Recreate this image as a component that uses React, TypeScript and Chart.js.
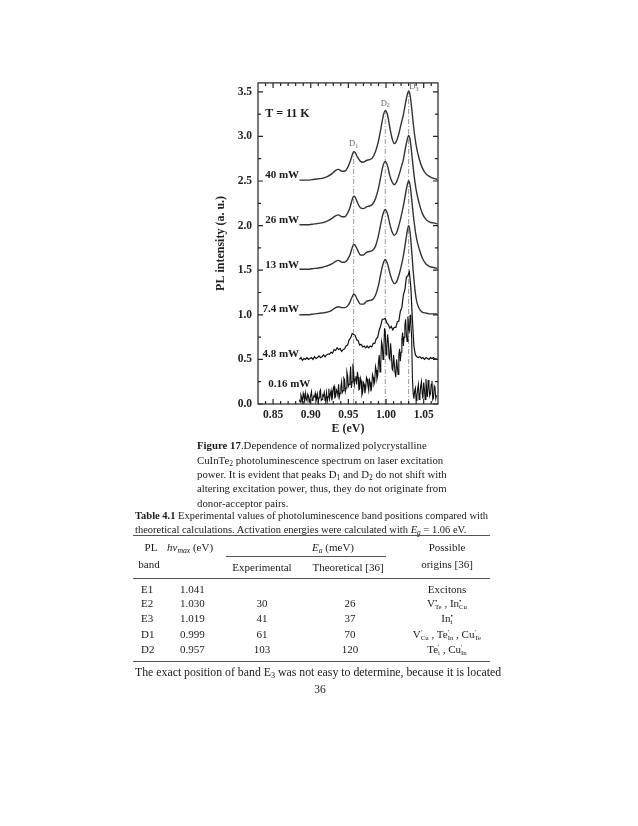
import React, { useEffect, useRef } from "react";
import { Chart, registerables } from "chart.js";

Chart.register(...registerables);

const FONT = '"Liberation Serif", "DejaVu Serif", serif';

// ---- data ----
const gridE = [0.885, 0.895, 0.905, 0.915, 0.922, 0.928, 0.933, 0.937, 0.941, 0.945, 0.949, 0.952, 0.955, 0.957, 0.959, 0.962, 0.966, 0.970, 0.974, 0.978, 0.982, 0.986, 0.990, 0.993, 0.996, 0.999, 1.002, 1.005, 1.008, 1.011, 1.014, 1.017, 1.020, 1.023, 1.026, 1.028, 1.030, 1.032, 1.034, 1.037, 1.040, 1.044, 1.048, 1.053, 1.058, 1.063, 1.068];

const pl40 = [2.51, 2.51, 2.52, 2.53, 2.55, 2.58, 2.62, 2.63, 2.61, 2.61, 2.65, 2.71, 2.79, 2.83, 2.82, 2.77, 2.72, 2.71, 2.73, 2.74, 2.76, 2.83, 2.95, 3.08, 3.22, 3.29, 3.24, 3.10, 2.98, 2.92, 2.95, 3.03, 3.14, 3.24, 3.38, 3.46, 3.51, 3.46, 3.32, 3.08, 2.90, 2.75, 2.65, 2.58, 2.55, 2.53, 2.52];
const pl26 = [2.01, 2.01, 2.02, 2.03, 2.05, 2.08, 2.11, 2.12, 2.10, 2.10, 2.14, 2.20, 2.29, 2.33, 2.32, 2.26, 2.20, 2.19, 2.21, 2.22, 2.24, 2.30, 2.42, 2.55, 2.67, 2.72, 2.67, 2.56, 2.49, 2.46, 2.49, 2.56, 2.65, 2.74, 2.88, 2.96, 3.01, 2.96, 2.82, 2.58, 2.40, 2.25, 2.14, 2.07, 2.04, 2.03, 2.02];
const pl13 = [1.51, 1.51, 1.52, 1.53, 1.55, 1.57, 1.60, 1.61, 1.59, 1.59, 1.62, 1.67, 1.75, 1.79, 1.78, 1.73, 1.67, 1.67, 1.70, 1.71, 1.72, 1.77, 1.89, 2.02, 2.13, 2.18, 2.13, 2.02, 1.93, 1.89, 1.92, 2.00, 2.10, 2.22, 2.36, 2.45, 2.50, 2.45, 2.30, 2.06, 1.88, 1.74, 1.64, 1.57, 1.54, 1.53, 1.52];
const pl74 = [1.00, 1.00, 1.01, 1.02, 1.03, 1.05, 1.08, 1.09, 1.08, 1.08, 1.10, 1.14, 1.20, 1.23, 1.22, 1.17, 1.12, 1.12, 1.15, 1.16, 1.17, 1.22, 1.33, 1.46, 1.57, 1.62, 1.57, 1.47, 1.39, 1.35, 1.37, 1.44, 1.54, 1.66, 1.82, 1.93, 2.00, 1.92, 1.72, 1.40, 1.18, 1.07, 1.03, 1.02, 1.01, 1.01, 1.01];

const noisyE = [
  0.885, 0.887, 0.889, 0.891, 0.893, 0.895, 0.897, 0.899, 0.901, 0.903,
  0.905, 0.907, 0.909, 0.911, 0.913, 0.915, 0.917, 0.919, 0.921, 0.923,
  0.925, 0.927, 0.929, 0.931, 0.933, 0.935, 0.937, 0.939, 0.941, 0.943,
  0.945, 0.947, 0.949, 0.951, 0.953, 0.955, 0.957, 0.959, 0.961, 0.963,
  0.965, 0.967, 0.969, 0.971, 0.973, 0.975, 0.977, 0.979, 0.981, 0.983,
  0.985, 0.987, 0.989, 0.991, 0.993, 0.995, 0.997, 0.999, 1.001, 1.003,
  1.005, 1.007, 1.009, 1.011, 1.013, 1.015, 1.017, 1.019, 1.021, 1.023,
  1.025, 1.027, 1.029, 1.031, 1.033, 1.035, 1.037, 1.039, 1.041, 1.043,
  1.045, 1.047, 1.049, 1.051, 1.053, 1.055, 1.057, 1.059, 1.061, 1.063,
  1.065, 1.067,
];

const noisyMidE = [
  0.886, 0.888, 0.890, 0.892, 0.894, 0.896, 0.898, 0.900, 0.902, 0.904,
  0.906, 0.908, 0.910, 0.912, 0.914, 0.916, 0.918, 0.920, 0.922, 0.924,
  0.926, 0.928, 0.930, 0.932, 0.934, 0.936, 0.938, 0.940, 0.942, 0.944,
  0.946, 0.948, 0.950, 0.952, 0.954, 0.956, 0.958, 0.960, 0.962, 0.964,
  0.966, 0.968, 0.970, 0.972, 0.974, 0.976, 0.978, 0.980, 0.982, 0.984,
  0.986, 0.988, 0.990, 0.992, 0.994, 0.996, 0.998, 1.000, 1.002, 1.004,
  1.006, 1.008, 1.010, 1.012, 1.014, 1.016, 1.018, 1.020, 1.022, 1.024,
  1.026, 1.028, 1.030, 1.032, 1.034, 1.036, 1.038, 1.040, 1.042, 1.044,
  1.046, 1.048, 1.050, 1.052, 1.054, 1.056, 1.058, 1.060, 1.062, 1.064,
  1.066,
];

const pl48 = [
  0.50, 0.52, 0.49, 0.51, 0.50, 0.52, 0.50, 0.51, 0.52, 0.50,
  0.53, 0.51, 0.52, 0.54, 0.52, 0.53, 0.55, 0.53, 0.55, 0.56,
  0.56, 0.58, 0.57, 0.61, 0.60, 0.63, 0.61, 0.62, 0.59, 0.61,
  0.62, 0.65, 0.66, 0.72, 0.74, 0.79, 0.78, 0.77, 0.72, 0.71,
  0.66, 0.67, 0.64, 0.65, 0.63, 0.65, 0.63, 0.65, 0.64, 0.68,
  0.68, 0.73, 0.75, 0.83, 0.88, 0.95, 0.95, 0.96, 0.91, 0.89,
  0.85, 0.87, 0.83, 0.86, 0.86, 0.92, 0.93, 1.04, 1.08, 1.22,
  1.28, 1.42, 1.44, 1.48, 1.30, 0.95, 0.65, 0.55, 0.53, 0.52,
  0.53, 0.51, 0.52, 0.50, 0.52, 0.51, 0.50, 0.52, 0.51, 0.52,
  0.50, 0.51,
];

const pl016 = [
  0.05, 0.10, 0.03, 0.08, 0.12, 0.04, 0.09, 0.06, 0.14, 0.05,
  0.08, 0.03, 0.11, 0.07, 0.16, 0.05, 0.09, 0.04, 0.13, 0.08,
  0.06, 0.15, 0.09, 0.20, 0.08, 0.14, 0.22, 0.12, 0.25, 0.15,
  0.27, 0.18, 0.32, 0.22, 0.42, 0.25, 0.35, 0.28, 0.22, 0.30,
  0.17, 0.26, 0.13, 0.22, 0.18, 0.28, 0.15, 0.24, 0.20, 0.30,
  0.25, 0.38, 0.32, 0.55, 0.45, 0.66, 0.58, 0.80, 0.62, 0.70,
  0.50, 0.58, 0.38, 0.45, 0.30, 0.42, 0.55, 0.48, 0.72, 0.65,
  0.88, 0.78, 0.98, 0.82, 0.90, 0.30, 0.06, 0.18, 0.08, 0.22,
  0.10, 0.25, 0.06, 0.16, 0.28, 0.08, 0.20, 0.12, 0.26, 0.07,
  0.18, 0.10,
];

const pl016Mid = [
  0.02, 0.07, 0.12, 0.03, 0.06, 0.11, 0.02, 0.10, 0.04, 0.09,
  0.12, 0.06, 0.02, 0.14, 0.04, 0.10, 0.13, 0.06, 0.03, 0.17,
  0.11, 0.04, 0.18, 0.07, 0.16, 0.10, 0.08, 0.19, 0.13, 0.29,
  0.14, 0.36, 0.20, 0.28, 0.18, 0.45, 0.22, 0.31, 0.36, 0.16,
  0.29, 0.10, 0.24, 0.12, 0.30, 0.20, 0.27, 0.14, 0.33, 0.22,
  0.42, 0.28, 0.47, 0.36, 0.70, 0.50, 0.85, 0.55, 0.78, 0.52,
  0.68, 0.40, 0.55, 0.35, 0.50, 0.33, 0.62, 0.58, 0.80, 0.75,
  0.95, 0.70, 0.85, 1.00, 0.75, 0.12, 0.15, 0.04, 0.17, 0.05,
  0.20, 0.12, 0.24, 0.05, 0.15, 0.27, 0.09, 0.22, 0.05, 0.20,
  0.06,
];

const powerLabels = ["40 mW", "26 mW", "13 mW", "7.4 mW", "4.8 mW", "0.16 mW"];
const powerLabelE = [0.8845, 0.8845, 0.8845, 0.8845, 0.8845, 0.8995];
const powerLabelY = [2.53, 2.03, 1.53, 1.03, 0.53, 0.19];

const peakNames = ["1", "2", "3"];
const peakE = [0.957, 0.999, 1.030];
const peakTop = [2.83, 3.29, 3.51];
const peakLabelE = [0.957, 0.999, 1.037];
const peakLabelY = [2.92, 3.37, 3.56];

const xTicks = [0.85, 0.9, 0.95, 1.0, 1.05];
const xMinor = [0.84, 0.86, 0.87, 0.88, 0.89, 0.91, 0.92, 0.93, 0.94, 0.96, 0.97, 0.98, 0.99, 1.01, 1.02, 1.03, 1.04, 1.06];
const yTicks = [0, 0.5, 1.0, 1.5, 2.0, 2.5, 3.0, 3.5];
const yMinor = [0.25, 0.75, 1.25, 1.75, 2.25, 2.75, 3.25];

const tableRows = [
  { band: "E1", hv: "1.041", exp: "", theo: "" },
  { band: "E2", hv: "1.030", exp: "30", theo: "26" },
  { band: "E3", hv: "1.019", exp: "41", theo: "37" },
  { band: "D1", hv: "0.999", exp: "61", theo: "70" },
  { band: "D2", hv: "0.957", exp: "103", theo: "120" },
];

const decorPlugin = {
  id: "decor",
  afterDatasetsDraw(chart: any) {
    const { ctx, chartArea: a, scales } = chart;
    const x = scales.x;
    const y = scales.y;
    ctx.save();
    ctx.strokeStyle = "#222";
    ctx.lineWidth = 1.2;
    ctx.strokeRect(a.left, a.top, a.right - a.left, a.bottom - a.top);
    ctx.beginPath();
    const tick = (px: number, len: number) => {
      ctx.moveTo(px, a.bottom);
      ctx.lineTo(px, a.bottom - len);
      ctx.moveTo(px, a.top);
      ctx.lineTo(px, a.top + len);
    };
    const ytick = (py: number, len: number) => {
      ctx.moveTo(a.left, py);
      ctx.lineTo(a.left + len, py);
      ctx.moveTo(a.right, py);
      ctx.lineTo(a.right - len, py);
    };
    xTicks.forEach((v) => tick(x.getPixelForValue(v), 5));
    xMinor.forEach((v) => tick(x.getPixelForValue(v), 3));
    yTicks.forEach((v) => ytick(y.getPixelForValue(v), 5));
    yMinor.forEach((v) => ytick(y.getPixelForValue(v), 3));
    ctx.stroke();

    // power labels
    ctx.fillStyle = "#1a1a1a";
    ctx.font = `bold 11px ${FONT}`;
    ctx.textAlign = "right";
    ctx.textBaseline = "alphabetic";
    powerLabels.forEach((t, i) => {
      ctx.fillText(t, x.getPixelForValue(powerLabelE[i]), y.getPixelForValue(powerLabelY[i]));
    });

    // temperature
    ctx.font = `bold 12px ${FONT}`;
    ctx.textAlign = "left";
    ctx.textBaseline = "middle";
    ctx.fillText("T = 11 K", x.getPixelForValue(0.8395), y.getPixelForValue(3.25));

    // peak labels
    ctx.fillStyle = "#6a6a6a";
    peakNames.forEach((n, i) => {
      const px = x.getPixelForValue(peakLabelE[i]);
      const py = y.getPixelForValue(peakLabelY[i]);
      ctx.font = `8.5px ${FONT}`;
      ctx.textAlign = "right";
      ctx.textBaseline = "middle";
      ctx.fillText("D", px + 1.5, py);
      ctx.font = `6px ${FONT}`;
      ctx.textAlign = "left";
      ctx.fillText(n, px + 1.5, py + 2.5);
    });
    ctx.restore();
  },
};

function Sub({ children }: { children: React.ReactNode }) {
  return (
    <span style={{ fontSize: "0.7em", position: "relative", top: "0.3em" }}>{children}</span>
  );
}

function Ion({ b, sup, sub }: { b: string; sup: string; sub: string }) {
  return (
    <span>
      {b}
      <span
        style={{
          display: "inline-flex",
          flexDirection: "column",
          fontSize: "0.62em",
          lineHeight: 0.95,
          verticalAlign: "middle",
          textAlign: "left",
        }}
      >
        <span>{sup}</span>
        <span>{sub}</span>
      </span>
    </span>
  );
}

function T({
  x,
  y,
  align = "left",
  size = 10.8,
  children,
  style,
}: {
  x: number;
  y: number;
  align?: "left" | "center";
  size?: number;
  children: React.ReactNode;
  style?: React.CSSProperties;
}) {
  return (
    <div
      style={{
        position: "absolute",
        left: x,
        top: y,
        transform: `translate(${align === "center" ? "-50%" : "0"}, -50%)`,
        whiteSpace: "nowrap",
        fontSize: size,
        lineHeight: 1.2,
        ...style,
      }}
    >
      {children}
    </div>
  );
}

function Rule({ x1, x2, y, w = 1 }: { x1: number; x2: number; y: number; w?: number }) {
  return (
    <div
      style={{ position: "absolute", left: x1, top: y, width: x2 - x1, height: w, background: "#555" }}
    />
  );
}

export default function App() {
  const ref = useRef<HTMLCanvasElement>(null);

  useEffect(() => {
    const toXY = (xs: number[], ys: number[]) => xs.map((v, i) => ({ x: v, y: ys[i] }));
    const smooth = [pl40, pl26, pl13, pl74].map((ys) => ({
      data: toXY(gridE, ys),
      borderColor: "#333",
      borderWidth: 1.4,
      pointRadius: 0,
      cubicInterpolationMode: "monotone" as const,
      fill: false,
    }));
    const low = [...toXY(noisyE, pl016), ...toXY(noisyMidE, pl016Mid)].sort((p, q) => p.x - q.x);
    const noisy = [toXY(noisyE, pl48), low].map((pts, i) => ({
      data: pts,
      borderColor: "#111",
      borderWidth: i === 0 ? 1.2 : 1.1,
      pointRadius: 0,
      tension: 0,
      fill: false,
    }));
    const vlines = peakE.map((e, i) => ({
      data: [
        { x: e, y: 0 },
        { x: e, y: peakTop[i] },
      ],
      borderColor: "#9a9a9a",
      borderWidth: 1,
      borderDash: [5, 2, 1, 2],
      pointRadius: 0,
      fill: false,
    }));
    const tickFont = { family: FONT, size: 11.5, weight: "bold" as const };
    const titleFont = { family: FONT, size: 12, weight: "bold" as const };
    const chart = new Chart(ref.current as HTMLCanvasElement, {
      type: "line",
      data: { datasets: [...smooth, ...noisy, ...vlines] as any },
      options: {
        animation: false,
        responsive: false,
        layout: { padding: { left: 0, right: 7, top: 8, bottom: 0 } },
        plugins: { legend: { display: false }, tooltip: { enabled: false } },
        scales: {
          x: {
            type: "linear",
            min: 0.83,
            max: 1.069,
            afterBuildTicks: (s: any) => {
              s.ticks = xTicks.map((v) => ({ value: v }));
            },
            afterFit: (s: any) => {
              s.height = 36;
            },
            grid: { display: false, drawTicks: false },
            border: { display: false },
            ticks: {
              padding: 4,
              color: "#222",
              font: tickFont,
              autoSkip: false,
              maxRotation: 0,
              callback: (v: any) => Number(v).toFixed(2),
            },
            title: {
              display: true,
              text: "E (eV)",
              color: "#222",
              font: titleFont,
              padding: { top: 0, bottom: 4 },
            },
          },
          y: {
            type: "linear",
            min: 0,
            max: 3.6,
            afterBuildTicks: (s: any) => {
              s.ticks = yTicks.map((v) => ({ value: v }));
            },
            afterFit: (s: any) => {
              s.width = 58;
            },
            grid: { display: false, drawTicks: false },
            border: { display: false },
            ticks: {
              padding: 6,
              color: "#222",
              font: tickFont,
              autoSkip: false,
              callback: (v: any) => Number(v).toFixed(1),
            },
            title: {
              display: true,
              text: "PL intensity (a. u.)",
              color: "#222",
              font: titleFont,
              padding: { top: 14, bottom: 0 },
            },
          },
        },
      },
      plugins: [decorPlugin],
    } as any);
    return () => chart.destroy();
  }, []);

  return (
    <div
      style={{
        position: "absolute",
        left: 0,
        top: 0,
        width: 638,
        height: 826,
        background: "#fff",
        color: "#1a1a1a",
        fontFamily: FONT,
        overflow: "hidden",
      }}
    >
      <canvas
        ref={ref}
        width={245}
        height={370}
        style={{ position: "absolute", left: 200, top: 70, width: 245, height: 370 }}
      />

      {/* Figure caption */}
      <T x={197} y={445}>
        <b>Figure 17</b>.Dependence of normalized polycrystalline
      </T>
      <T x={197} y={460}>
        CuInTe<Sub>2</Sub> photoluminescence spectrum on laser excitation
      </T>
      <T x={197} y={474}>
        power. It is evident that peaks D<Sub>1</Sub> and D<Sub>2</Sub> do not shift with
      </T>
      <T x={197} y={488}>
        altering excitation power, thus, they do not originate from
      </T>
      <T x={197} y={503}>donor-acceptor pairs.</T>

      {/* Table caption */}
      <T x={135} y={516} size={10.5}>
        <b>Table 4.1</b> Experimental values of photoluminescence band positions compared with
      </T>
      <T x={135} y={530} size={10.5}>
        theoretical calculations. Activation energies were calculated with <i>E</i>
        <Sub>
          <i>g</i>
        </Sub>{" "}
        = 1.06 eV.
      </T>

      <Rule x1={133} x2={490} y={535} w={1.3} />
      <T x={151} y={548} align="center" size={11}>PL</T>
      <T x={149} y={565} align="center" size={11}>band</T>
      <T x={167} y={548} size={11}>
        <i>hν</i>
        <Sub>
          <i>max</i>
        </Sub>{" "}
        (eV)
      </T>
      <T x={333} y={548} align="center" size={11}>
        <i>E</i>
        <Sub>
          <i>a</i>
        </Sub>{" "}
        (meV)
      </T>
      <Rule x1={226} x2={386} y={556} />
      <T x={262} y={568} align="center" size={11}>Experimental</T>
      <T x={348} y={568} align="center" size={11}>Theoretical [36]</T>
      <T x={447} y={548} align="center" size={11}>Possible</T>
      <T x={447} y={565} align="center" size={11}>origins [36]</T>
      <Rule x1={133} x2={490} y={578} />

      {tableRows.map((r, i) => {
        const ys = [590, 604, 619, 635, 650];
        return (
          <React.Fragment key={r.band}>
            <T x={141} y={ys[i]} size={11}>{r.band}</T>
            <T x={180} y={ys[i]} size={11}>{r.hv}</T>
            <T x={262} y={ys[i]} align="center" size={11}>{r.exp}</T>
            <T x={350} y={ys[i]} align="center" size={11}>{r.theo}</T>
          </React.Fragment>
        );
      })}
      <T x={447} y={590} align="center" size={11}>Excitons</T>
      <T x={447} y={604} align="center" size={11}>
        <Ion b="V" sup="•" sub="Te" /> , <Ion b="In" sup="•" sub="Cu" />
      </T>
      <T x={447} y={619} align="center" size={11}>
        <Ion b="In" sup="•" sub="i" />
      </T>
      <T x={447} y={635} align="center" size={11}>
        <Ion b="V" sup="′" sub="Cu" /> , <Ion b="Te" sup="′" sub="In" /> , <Ion b="Cu" sup="′" sub="Te" />
      </T>
      <T x={447} y={650} align="center" size={11}>
        <Ion b="Te" sup="′" sub="i" /> , <Ion b="Cu" sup="′" sub="In" />
      </T>
      <Rule x1={133} x2={490} y={661} />

      <T x={135} y={672} size={11.8}>
        The exact position of band E<Sub>3</Sub> was not easy to determine, because it is located
      </T>
      <T x={320} y={690} align="center" size={11.5}>
        36
      </T>
    </div>
  );
}
